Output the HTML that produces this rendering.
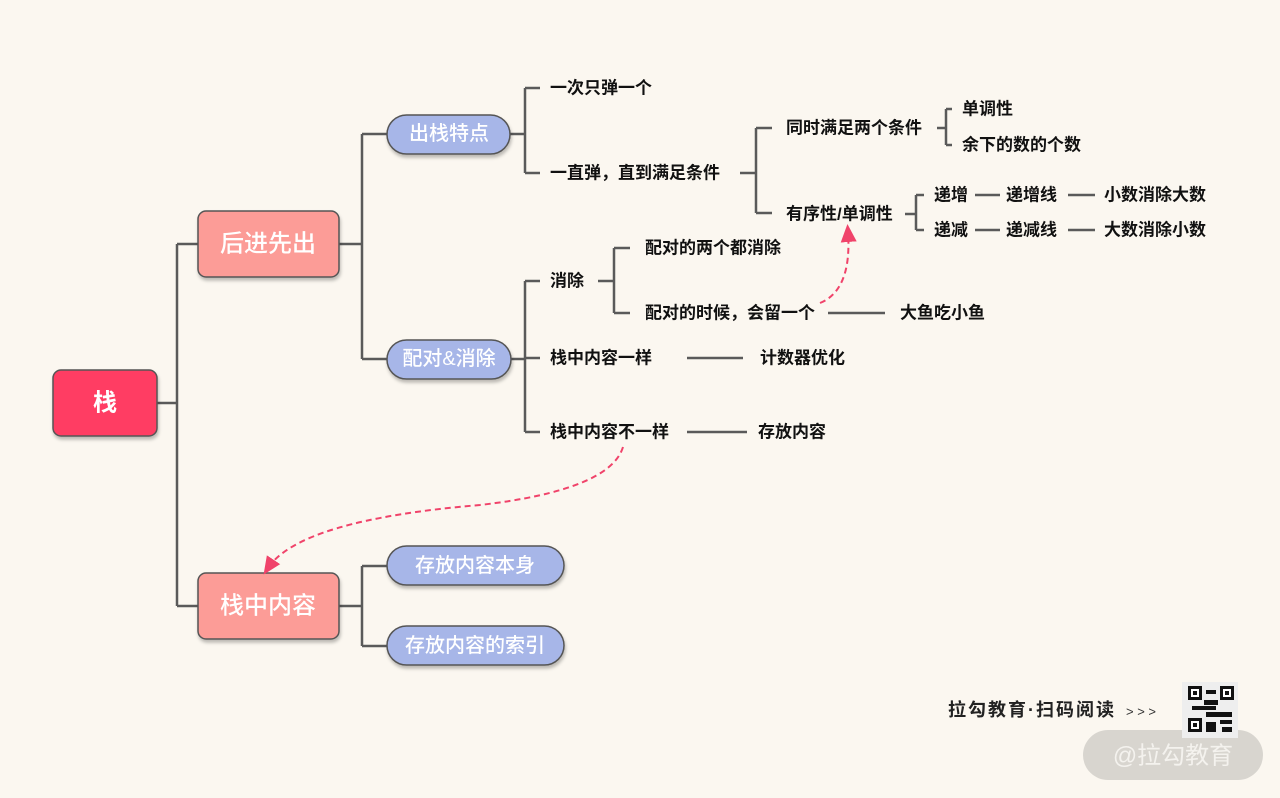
<!DOCTYPE html>
<html><head><meta charset="utf-8"><style>
body{margin:0;background:#fbf7f0;}
svg{display:block}
text{font-family:"Liberation Sans","Noto Sans CJK SC",sans-serif;}
.l{font-size:17px;fill:#111;font-weight:bold;dominant-baseline:central}
.w{fill:#fff;dominant-baseline:central;text-anchor:middle}
</style></head><body>
<svg width="1280" height="798" viewBox="0 0 1280 798">
<defs><filter id="s" x="-10%" y="-10%" width="130%" height="140%"><feDropShadow dx="1" dy="3" stdDeviation="1.5" flood-color="#000" flood-opacity="0.25"/></filter>
<marker id="a" markerWidth="10" markerHeight="10" refX="5" refY="5" orient="auto"><path d="M0,1 L9,5 L0,9 z" fill="#f0436a"/></marker></defs>
<g stroke="#5a5a5a" stroke-width="2.5" fill="none">
<path d="M157 403H177M177 244V606M177 244H198M177 606H198"/>
<path d="M339 244H362M362 134V359M362 134H387M362 359H387"/>
<path d="M510 134H525M525 88V173M525 88H540M525 173H540"/>
<path d="M740 173H756M756 128V213M756 128H772M756 213H772"/>
<path d="M937 128H946M946 109V145M946 109H952M946 145H952"/>
<path d="M905 214H916M916 195V230M916 195H924M916 230H924"/>
<path d="M975 195H1000M1068 195H1095M975 230H1000M1068 230H1095"/>
<path d="M511 359H525M525 281V432M525 281H540M525 358H540M525 432H540"/>
<path d="M598 281H614M614 248V313M614 248H630M614 313H630"/>
<path d="M828 313H885M687 358H743M687 432H747"/>
<path d="M339 606H362M362 566V646M362 566H387M362 646H387"/>
</g>
<g filter="url(#s)" stroke="#555" stroke-width="1.5">
<rect x="53" y="370" width="104" height="66" rx="8" fill="#ff3d63"/>
<rect x="198" y="211" width="141" height="66" rx="8" fill="#fc9c97"/>
<rect x="198" y="573" width="141" height="66" rx="8" fill="#fc9c97"/>
<rect x="387" y="115" width="123" height="39" rx="19.5" fill="#a7b6e8"/>
<rect x="387" y="340" width="124" height="39" rx="19.5" fill="#a7b6e8"/>
<rect x="387" y="546" width="177" height="39" rx="19.5" fill="#a7b6e8"/>
<rect x="387" y="626" width="177" height="39" rx="19.5" fill="#a7b6e8"/>
</g>
<text class="w" x="105" y="403" font-size="24" font-weight="bold">栈</text>
<text class="w" x="268" y="244" font-size="24" font-weight="500">后进先出</text>
<text class="w" x="268" y="606" font-size="24" font-weight="500">栈中内容</text>
<text class="w" x="449" y="134" font-size="20" font-weight="500">出栈特点</text>
<text class="w" x="449" y="359" font-size="20" font-weight="500">配对&amp;消除</text>
<text class="w" x="475" y="566" font-size="20" font-weight="500">存放内容本身</text>
<text class="w" x="475" y="646" font-size="20" font-weight="500">存放内容的索引</text>
<g class="l">
<text class="l" x="550" y="88">一次只弹一个</text>
<text class="l" x="550" y="173">一直弹，直到满足条件</text>
<text class="l" x="786" y="128">同时满足两个条件</text>
<text class="l" x="786" y="214">有序性/单调性</text>
<text class="l" x="962" y="109">单调性</text>
<text class="l" x="962" y="145">余下的数的个数</text>
<text class="l" x="934" y="195">递增</text>
<text class="l" x="934" y="230">递减</text>
<text class="l" x="1006" y="195">递增线</text>
<text class="l" x="1006" y="230">递减线</text>
<text class="l" x="1104" y="195">小数消除大数</text>
<text class="l" x="1104" y="230">大数消除小数</text>
<text class="l" x="550" y="281">消除</text>
<text class="l" x="550" y="358">栈中内容一样</text>
<text class="l" x="550" y="432">栈中内容不一样</text>
<text class="l" x="645" y="248">配对的两个都消除</text>
<text class="l" x="645" y="313">配对的时候，会留一个</text>
<text class="l" x="900" y="313">大鱼吃小鱼</text>
<text class="l" x="760" y="358">计数器优化</text>
<text class="l" x="758" y="432">存放内容</text>
</g>
<g stroke="#f0436a" stroke-width="2" fill="none" stroke-dasharray="6,4">
<path d="M820 303 Q852 290 848 232" marker-end="url(#a)"/>
<path d="M623 447 Q610 490 480 505 Q300 520 268 568" marker-end="url(#a)"/>
</g>
<text x="948" y="716" font-size="18" font-weight="bold" fill="#222" letter-spacing="2">拉勾教育·扫码阅读</text>
<text x="1126" y="716" font-size="13" fill="#333">&gt; &gt; &gt;</text>
<rect x="1083" y="730" width="180" height="50" rx="25" fill="#d8d5cf"/>
<text x="1173" y="756" font-size="24" fill="#f4f2ee" text-anchor="middle" dominant-baseline="central">@拉勾教育</text>
<rect x="1182" y="682" width="56" height="56" fill="#eee"/>
<g fill="#111">
<rect x="1188" y="686" width="14" height="14"/><rect x="1220" y="686" width="14" height="14"/><rect x="1188" y="718" width="14" height="14"/>
<rect x="1206" y="690" width="10" height="4"/><rect x="1204" y="700" width="14" height="5"/><rect x="1192" y="706" width="24" height="4"/><rect x="1206" y="712" width="26" height="5"/><rect x="1206" y="722" width="10" height="10"/><rect x="1220" y="720" width="12" height="4"/><rect x="1222" y="727" width="10" height="5"/>
</g>
<g fill="#fff"><rect x="1191" y="689" width="8" height="8"/><rect x="1223" y="689" width="8" height="8"/><rect x="1191" y="721" width="8" height="8"/></g>
<g fill="#111"><rect x="1193" y="691" width="4" height="4"/><rect x="1225" y="691" width="4" height="4"/><rect x="1193" y="723" width="4" height="4"/></g>
</svg>
</body></html>
